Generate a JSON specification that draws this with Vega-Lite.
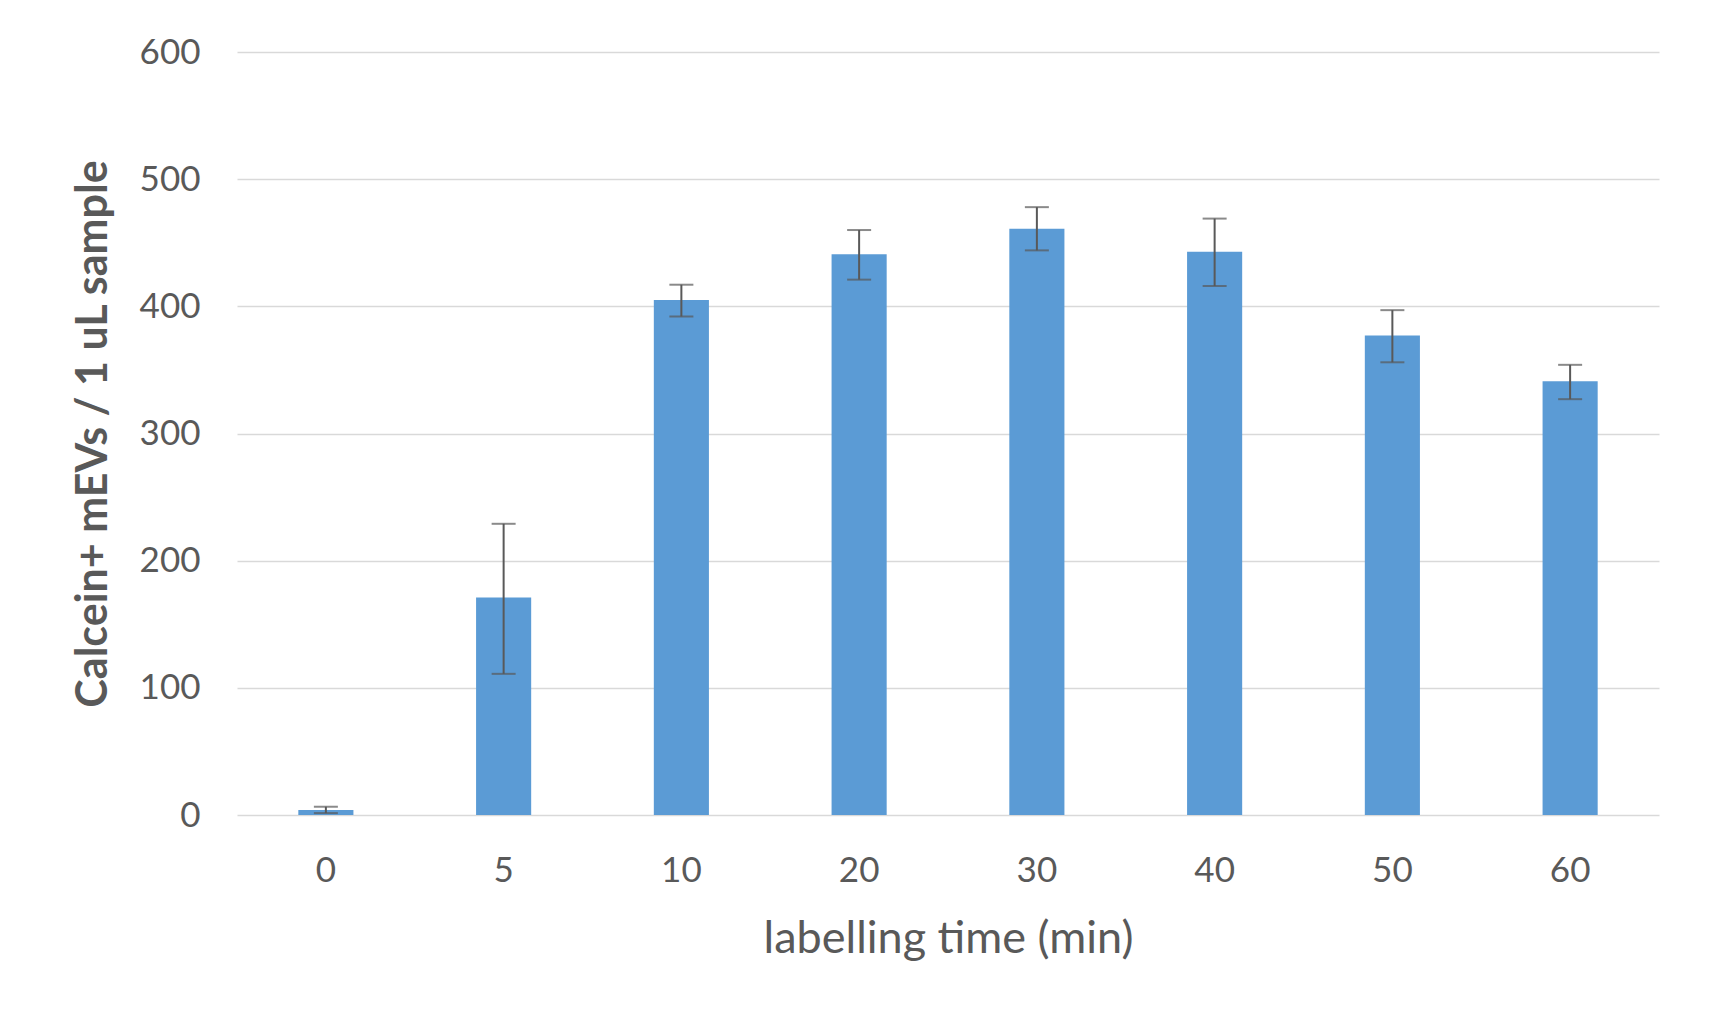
{
  "$schema": "https://vega.github.io/schema/vega-lite/v6.json",
  "width": 1422,
  "height": 763,
  "autosize": {"type": "none"},
  "padding": {"left": 237, "top": 52, "right": 52, "bottom": 211},
  "background": "white",
  "data": {
    "values": [
      {"time": 0, "mean": 4, "lo": 1.5, "hi": 6.5},
      {"time": 5, "mean": 171, "lo": 111, "hi": 229},
      {"time": 10, "mean": 405, "lo": 392, "hi": 417},
      {"time": 20, "mean": 441, "lo": 421, "hi": 460},
      {"time": 30, "mean": 461, "lo": 444, "hi": 478},
      {"time": 40, "mean": 443, "lo": 416, "hi": 469},
      {"time": 50, "mean": 377, "lo": 356, "hi": 397},
      {"time": 60, "mean": 341, "lo": 327, "hi": 354}
    ]
  },
  "encoding": {
    "x": {
      "field": "time",
      "type": "ordinal",
      "title": "labelling time (min)",
      "scale": {"paddingInner": 0.69, "paddingOuter": 0.345},
      "axis": {
        "labelAngle": 0,
        "labelFontSize": 35,
        "labelColor": "#595959",
        "labelPadding": 38,
        "titleFontSize": 45,
        "titleFontWeight": "normal",
        "titleColor": "#595959",
        "titlePadding": 28,
        "domain": false,
        "ticks": false
      }
    }
  },
  "layer": [
    {
      "mark": {"type": "bar", "color": "#5B9BD5"},
      "encoding": {
        "y": {
          "field": "mean",
          "type": "quantitative",
          "title": "Calcein+ mEVs / 1 uL sample",
          "scale": {"domain": [0, 600]},
          "axis": {
            "values": [0, 100, 200, 300, 400, 500, 600],
            "labelFontSize": 35,
            "labelColor": "#595959",
            "labelPadding": 37,
            "titleFontSize": 43,
            "titleFontWeight": "bold",
            "titleColor": "#595959",
            "titlePadding": 24,
            "domain": false,
            "ticks": false,
            "grid": true,
            "gridColor": "#d9d9d9",
            "gridWidth": 1.5
          }
        }
      }
    },
    {
      "mark": {"type": "rule", "color": "#595959", "strokeWidth": 2},
      "encoding": {
        "y": {"field": "lo", "type": "quantitative"},
        "y2": {"field": "hi"}
      }
    },
    {
      "mark": {"type": "tick", "color": "#595959", "thickness": 2, "size": 24, "orient": "horizontal"},
      "encoding": {"y": {"field": "lo", "type": "quantitative"}}
    },
    {
      "mark": {"type": "tick", "color": "#595959", "thickness": 2, "size": 24, "orient": "horizontal"},
      "encoding": {"y": {"field": "hi", "type": "quantitative"}}
    }
  ],
  "config": {"view": {"stroke": null}, "font": "Lato"}
}
